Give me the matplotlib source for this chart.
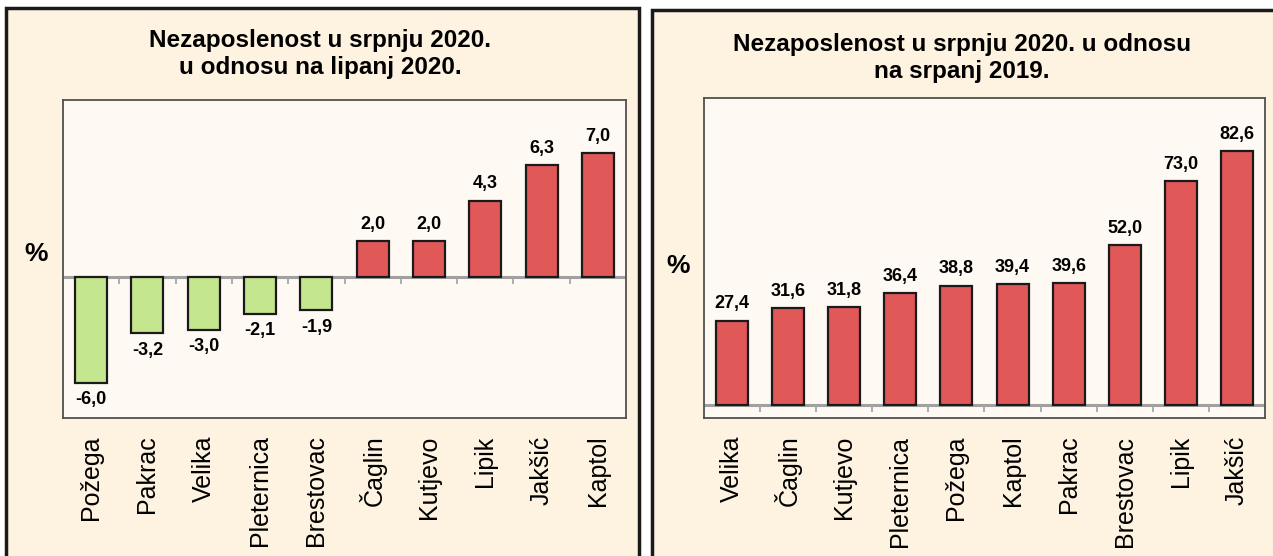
import matplotlib
matplotlib.use("Agg")
import matplotlib.pyplot as plt
from matplotlib.patches import Rectangle
import numpy as np

# data
cat_month = ["Požega", "Pakrac", "Velika", "Pleternica", "Brestovac",
             "Čaglin", "Kutjevo", "Lipik", "Jakšić", "Kaptol"]
val_month = [-6.0, -3.2, -3.0, -2.1, -1.9, 2.0, 2.0, 4.3, 6.3, 7.0]

cat_year = ["Velika", "Čaglin", "Kutjevo", "Pleternica", "Požega",
            "Kaptol", "Pakrac", "Brestovac", "Lipik", "Jakšić"]
val_year = [27.4, 31.6, 31.8, 36.4, 38.8, 39.4, 39.6, 52.0, 73.0, 82.6]

title_month = "Nezaposlenost u srpnju 2020.\nu odnosu na lipanj 2020."
title_year = "Nezaposlenost u srpnju 2020. u odnosu\nna srpanj 2019."

RED = "#e05858"
GREEN = "#c3e68e"
PANEL = "#fdf3e0"
PLOTBG = "#fefaf3"
FONT = ["Liberation Sans", "DejaVu Sans"]

W, H = 1273, 556
fig = plt.figure(figsize=(W / 100, H / 100), dpi=100, facecolor="white")


def px_rect(x0, y0, x1, y1):
    # pixel box (top-left origin) -> figure fraction
    return [x0 / W, 1 - y1 / H, (x1 - x0) / W, (y1 - y0) / H]


def panel(x0, y0, x1, y1):
    r = Rectangle((x0 / W, 1 - y1 / H), (x1 - x0) / W, (y1 - y0) / H,
                  transform=fig.transFigure, facecolor=PANEL,
                  edgecolor="#1a1a1a", linewidth=2.5, zorder=-5)
    fig.patches.append(r)


def bar_chart(box, cats, vals, ylim, colors, title, title_xy, pct_xy):
    ax = fig.add_axes(px_rect(*box))
    ax.set_zorder(2)
    ax.set_facecolor(PLOTBG)
    x = np.arange(len(cats))
    ax.bar(x, vals, width=0.57, color=colors, edgecolor="#1a1a1a",
           linewidth=1.6, zorder=3)
    ax.set_xlim(-0.5, len(cats) - 0.5)
    ax.set_ylim(*ylim)
    ax.axhline(0, color="#a0a0a0", linewidth=2.2, zorder=2)
    # small tick marks under the zero line between the bars
    h_px = (box[3] - box[1])
    tick = 7 * (ylim[1] - ylim[0]) / h_px
    ax.vlines(x[:-1] + 0.5, -tick, 0, color="#a0a0a0", linewidth=1.2, zorder=2)
    ax.set_xticks([])
    ax.set_yticks([])
    for s in ax.spines.values():
        s.set_color("#505050")
        s.set_linewidth(1.3)
    for xi, v in zip(x, vals):
        txt = f"{v:.1f}".replace(".", ",")
        if v >= 0:
            ax.annotate(txt, (xi, v), xytext=(0, 6), textcoords="offset points",
                        ha="center", va="bottom", fontsize=13,
                        fontweight="bold", family=FONT)
        else:
            ax.annotate(txt, (xi, v), xytext=(0, -6), textcoords="offset points",
                        ha="center", va="top", fontsize=13,
                        fontweight="bold", family=FONT)
    for xi, c in zip(x, cats):
        ax.text(xi, -0.055, c, transform=ax.get_xaxis_transform(),
                rotation=90, ha="center", va="top", fontsize=18, family=FONT)
    fig.text(title_xy[0] / W, 1 - title_xy[1] / H, title, ha="center",
             va="center", fontsize=17.5, fontweight="bold", family=FONT,
             linespacing=1.25)
    fig.text(pct_xy[0] / W, 1 - pct_xy[1] / H, "%", ha="center", va="center",
             fontsize=19, fontweight="bold", family=FONT)
    return ax


panel(6, 8, 639, 600)
panel(652, 10, 1300, 600)

col_month = [GREEN if v < 0 else RED for v in val_month]
bar_chart((63, 100, 626, 418), cat_month, val_month, (-8, 10), col_month,
          title_month, (320, 54), (36, 254))
bar_chart((704, 98, 1265, 418), cat_year, val_year, (-4.3, 100), RED,
          title_year, (962, 58), (678, 266))

fig.savefig("out.png", dpi=100, facecolor="white")
